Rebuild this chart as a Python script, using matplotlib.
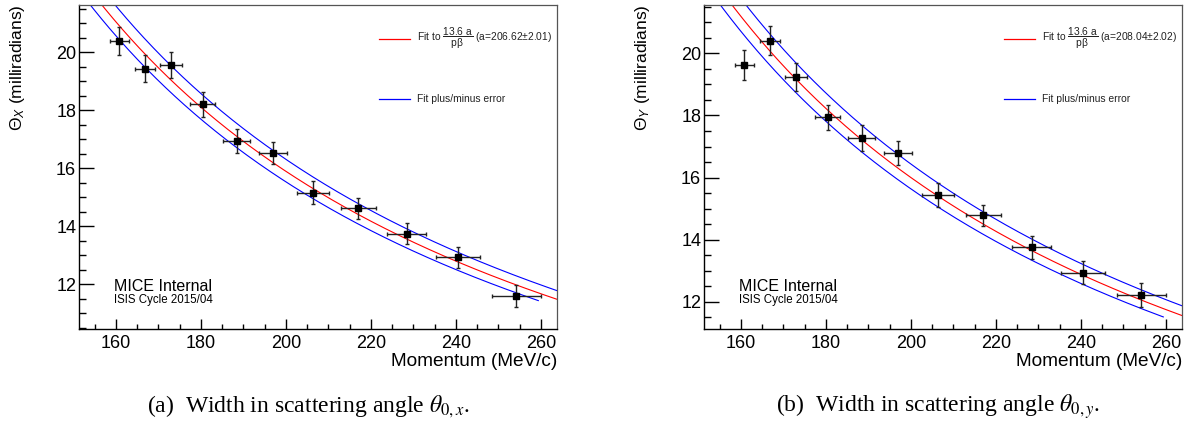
import numpy as np
import matplotlib
matplotlib.use("Agg")
import matplotlib.pyplot as plt
from matplotlib.ticker import MultipleLocator

plt.rcParams["font.family"] = ["Liberation Sans", "DejaVu Sans"]
plt.rcParams["mathtext.fontset"] = "custom"
plt.rcParams["mathtext.rm"] = "Liberation Sans"
plt.rcParams["mathtext.it"] = "Liberation Sans:italic"
plt.rcParams["mathtext.bf"] = "Liberation Sans:bold"

# Momentum bins (MeV/c) and their half-widths
momentum = [160.8, 166.9, 173.0, 180.4, 188.4, 196.9, 206.4, 217.0, 228.4, 240.5, 254.2]
momentum_err = [2.2, 2.4, 2.6, 2.9, 3.1, 3.3, 3.7, 4.1, 4.5, 5.2, 5.8]

# Scattering width in x (mrad)
theta_x = [20.39, 19.43, 19.56, 18.20, 16.94, 16.52, 15.15, 14.61, 13.74, 12.93, 11.58]
theta_x_err = [0.49, 0.46, 0.46, 0.43, 0.40, 0.39, 0.39, 0.37, 0.36, 0.36, 0.38]

# Scattering width in y (mrad)
theta_y = [19.62, 20.41, 19.23, 17.94, 17.28, 16.78, 15.44, 14.78, 13.75, 12.94, 12.21]
theta_y_err = [0.48, 0.47, 0.45, 0.41, 0.42, 0.39, 0.38, 0.35, 0.36, 0.37, 0.38]

# Fit parameter a and its quoted error, plus the a values of the drawn error curves
fit_a = [206.62, 208.04]
fit_a_err = [2.01, 2.02]
band_a_hi = [212.0, 213.7]
band_a_lo = [201.9, 203.3]

captions = [r"(a)  Width in scattering angle $\theta_{0,x}$.",
            r"(b)  Width in scattering angle $\theta_{0,y}$."]
ylabels = [r"$\Theta_{X}$ (milliradians)", r"$\Theta_{Y}$ (milliradians)"]
ylims = [(10.45, 21.63), (11.12, 21.56)]

MUON_MASS = 105.66  # MeV/c^2


def width_model(p, a):
    p = np.asarray(p, dtype=float)
    energy = np.sqrt(p ** 2 + MUON_MASS ** 2)
    beta = p / energy
    return 13.6 * a / (p * beta)


fig = plt.figure(figsize=(11.9, 4.32), dpi=100)
axes_boxes = [[79 / 1190, 1 - 329 / 432, 478 / 1190, 324 / 432],
              [704 / 1190, 1 - 329 / 432, 478 / 1190, 324 / 432]]
caption_x = [308 / 1190, 938 / 1190]

series = [(theta_x, theta_x_err), (theta_y, theta_y_err)]

for i, box in enumerate(axes_boxes):
    ax = fig.add_axes(box)
    vals, errs = series[i]

    p_full = np.linspace(150.0, 264.0, 400)
    p_low = np.linspace(150.0, 259.4, 400)
    ax.plot(p_full, width_model(p_full, band_a_hi[i]), color="#0000ff", lw=0.8, zorder=2)
    ax.plot(p_low, width_model(p_low, band_a_lo[i]), color="#0000ff", lw=0.8, zorder=2)
    ax.plot(p_full, width_model(p_full, fit_a[i]), color="#ff0000", lw=0.8, zorder=2)

    ax.errorbar(momentum, vals, xerr=momentum_err, yerr=errs, fmt="s",
                color="black", ms=5, ecolor="#222222", elinewidth=1.0,
                capsize=1.5, capthick=1.0, zorder=3)

    ax.set_xlim(151.3, 263.8)
    ax.set_ylim(*ylims[i])
    ax.xaxis.set_major_locator(MultipleLocator(20))
    ax.xaxis.set_minor_locator(MultipleLocator(5))
    ax.yaxis.set_major_locator(MultipleLocator(2))
    ax.yaxis.set_minor_locator(MultipleLocator(0.5))
    ax.tick_params(axis="y", which="major", direction="in", length=10.5, width=1.0,
                   labelsize=13, pad=2, right=False)
    ax.tick_params(axis="y", which="minor", direction="in", length=5.3, width=1.0, right=False)
    ax.tick_params(axis="x", which="major", direction="in", length=7, width=1.0,
                   labelsize=13, pad=4, top=False)
    ax.tick_params(axis="x", which="minor", direction="in", length=3.6, width=1.0, top=False)

    for side in ("left", "bottom"):
        ax.spines[side].set_linewidth(1.0)
        ax.spines[side].set_color("black")
    for side in ("top", "right"):
        ax.spines[side].set_linewidth(0.9)
        ax.spines[side].set_color("#555555")

    ax.set_xlabel("Momentum (MeV/c)", fontsize=13.7, ha="right", va="top")
    ax.xaxis.set_label_coords(1.0, -0.075)
    ax.set_ylabel(ylabels[i], fontsize=12.5, ha="right", va="center")
    ax.yaxis.set_label_coords(-0.129, 1.0)

    # Legend entries
    ax.plot([0.627, 0.692], [0.896, 0.896], transform=ax.transAxes, color="#ff0000", lw=0.9)
    ax.plot([0.627, 0.692], [0.709, 0.709], transform=ax.transAxes, color="#0000ff", lw=0.9)
    ax.text(0.708, 0.896,
            r"Fit to $\dfrac{\mathrm{13.6\ a}}{\mathrm{p\beta}}$" + f" (a={fit_a[i]:.2f}±{fit_a_err[i]:.2f})",
            transform=ax.transAxes, fontsize=7.4, ha="left", va="center", color="#222222")
    ax.text(0.708, 0.709, "Fit plus/minus error", transform=ax.transAxes,
            fontsize=7.4, ha="left", va="center", color="#222222")

    ax.text(0.073, 0.132, "MICE Internal", transform=ax.transAxes,
            fontsize=11.5, ha="left", va="center")
    ax.text(0.073, 0.091, "ISIS Cycle 2015/04", transform=ax.transAxes,
            fontsize=8.3, ha="left", va="center")

    fig.text(caption_x[i], 1 - 407 / 432, captions[i], ha="center", va="center",
             fontsize=17, family=["Liberation Serif", "DejaVu Serif"],
             math_fontfamily="stix")

fig.savefig("out.png", dpi=100)
